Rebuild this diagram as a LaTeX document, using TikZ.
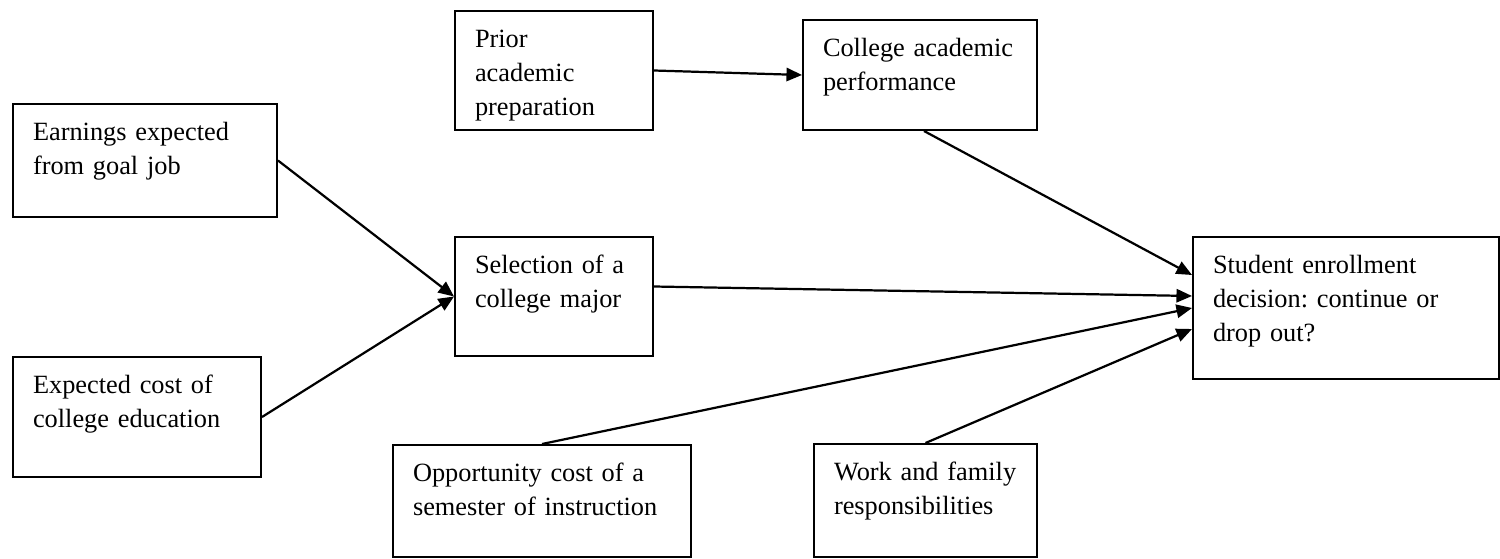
\documentclass[tikz,border=0pt]{standalone}
\usepackage{fontspec}
\setmainfont{Liberation Serif}
\usetikzlibrary{arrows.meta}

\begin{document}
\begin{tikzpicture}[x=0.45pt,y=-0.45pt,>={Triangle[length=7pt,width=6pt]},
  font=\fontsize{11.85}{15.3}\selectfont\frenchspacing,
  box/.style={draw,line width=0.9pt,anchor=north west,align=left,
    inner xsep=9pt,inner ysep=0pt,text height=16.2pt},
  link/.style={->,line width=1pt}]
 \useasboundingbox (0,0) rectangle (1500,558);
 % factors
 \node[box,text width=71.1pt,text depth=37.35pt] (prep) at (454,10) {Prior\\academic\\preparation};
 \node[box,text width=87.3pt,text depth=33.3pt] (perf) at (802,19) {College academic\\performance};
 \node[box,text width=100.8pt,text depth=34.65pt] (earn) at (12,103) {Earnings expected\\from goal job};
 \node[box,text width=71.1pt,text depth=37.35pt] (major) at (454,236) {Selection of a\\college major};
 \node[box,text width=93.6pt,text depth=37.8pt] (cost) at (12,356) {Expected cost of\\college education};
 \node[box,text width=116.1pt,text depth=34.2pt] (opp) at (392,444) {Opportunity cost of a\\semester of instruction};
 \node[box,text width=82.35pt,text depth=34.65pt] (work) at (813,443) {Work and family\\responsibilities};
 % outcome
 \node[box,text width=119.7pt,text depth=47.7pt] (decision) at (1192,236) {Student enrollment\\decision: continue or\\drop out?};
 % links
 \draw[link] (prep.east) -- (perf.west);
 \draw[link] (earn.east) -- (major.west);
 \draw[link] (cost.east) -- (major.west);
 \draw[link] ([shift={(4,0)}]perf.south) -- ([shift={(0,-33)}]decision.west);
 \draw[link] ([shift={(0,-10)}]major.east) -- ([shift={(0,-12)}]decision.west);
 \draw[link] (opp.north) -- (decision.west);
 \draw[link] (work.north) -- ([shift={(0,21)}]decision.west);
\end{tikzpicture}
\end{document}
